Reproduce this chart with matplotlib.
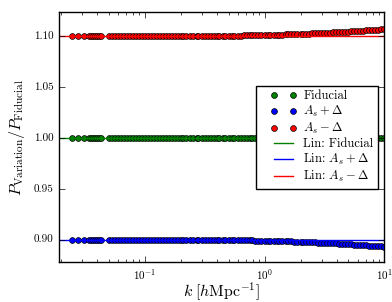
import matplotlib
matplotlib.use("Agg")
import numpy as np
from matplotlib import pyplot as plt
from matplotlib.lines import Line2D
from matplotlib.legend_handler import HandlerLine2D

plt.style.use("classic")
plt.rcParams["font.family"] = "serif"
plt.rcParams["font.serif"] = ["cmr10"]
plt.rcParams["mathtext.fontset"] = "cm"
plt.rcParams["axes.unicode_minus"] = False
plt.rcParams["axes.formatter.use_mathtext"] = True

k = np.array([
    0.0245, 0.0275, 0.031, 0.034, 0.0355, 0.037, 0.0385, 0.040, 0.0415, 0.043,
    0.050, 0.053, 0.056, 0.059, 0.063, 0.067, 0.071, 0.075, 0.079, 0.084,
    0.089, 0.094, 0.10, 0.106, 0.112, 0.119, 0.126, 0.133, 0.141, 0.150,
    0.158, 0.168, 0.178, 0.188, 0.20, 0.21, 0.22, 0.24, 0.25, 0.27,
    0.28, 0.30, 0.32, 0.335, 0.355, 0.375, 0.40, 0.42, 0.45, 0.47,
    0.50, 0.53, 0.56, 0.60, 0.63, 0.67, 0.71, 0.75, 0.79, 0.84,
    0.89, 0.94, 1.00, 1.06, 1.12, 1.19, 1.26, 1.33, 1.41, 1.50,
    1.58, 1.68, 1.78, 1.88, 2.00, 2.11, 2.24, 2.37, 2.51, 2.66,
    2.82, 2.99, 3.16, 3.35, 3.55, 3.76, 3.98, 4.22, 4.47, 4.73,
    5.01, 5.31, 5.62, 5.96, 6.31, 6.68, 7.08, 7.50, 7.94, 8.41,
    8.91, 9.44, 10.0,
])

fiducial = np.array([1.000] * len(k))

minus_delta = np.array([
    1.1000, 1.1000, 1.1000, 1.1000, 1.1000, 1.1000, 1.1000, 1.1000, 1.1000, 1.1000,
    1.1000, 1.1000, 1.1000, 1.1000, 1.1000, 1.1000, 1.1000, 1.1000, 1.1000, 1.1000,
    1.1000, 1.1000, 1.1000, 1.1000, 1.1000, 1.1000, 1.1000, 1.1000, 1.1000, 1.1000,
    1.1000, 1.1000, 1.1000, 1.1000, 1.1000, 1.1000, 1.1000, 1.1001, 1.1001, 1.1001,
    1.1001, 1.1001, 1.1002, 1.1002, 1.1002, 1.1002, 1.1003, 1.1003, 1.1003, 1.1004,
    1.1004, 1.1004, 1.1005, 1.1005, 1.1005, 1.1006, 1.1006, 1.1007, 1.1007, 1.1008,
    1.1008, 1.1009, 1.1009, 1.1010, 1.1011, 1.1011, 1.1012, 1.1013, 1.1014, 1.1015,
    1.1016, 1.1017, 1.1018, 1.1019, 1.1020, 1.1021, 1.1022, 1.1024, 1.1025, 1.1026,
    1.1028, 1.1029, 1.1031, 1.1032, 1.1034, 1.1035, 1.1037, 1.1038, 1.1040, 1.1042,
    1.1043, 1.1045, 1.1047, 1.1049, 1.1051, 1.1053, 1.1055, 1.1057, 1.1059, 1.1061,
    1.1063, 1.1065, 1.1068,
])

plus_delta = np.array([
    0.9000, 0.9000, 0.9000, 0.9000, 0.9000, 0.9000, 0.9000, 0.9000, 0.9000, 0.9000,
    0.9000, 0.9000, 0.9000, 0.9000, 0.9000, 0.9000, 0.9000, 0.9000, 0.9000, 0.9000,
    0.9000, 0.9000, 0.9000, 0.9000, 0.9000, 0.9000, 0.9000, 0.9000, 0.9000, 0.9000,
    0.9000, 0.9000, 0.9000, 0.9000, 0.9000, 0.9000, 0.9000, 0.8999, 0.8999, 0.8999,
    0.8999, 0.8999, 0.8998, 0.8998, 0.8998, 0.8998, 0.8997, 0.8997, 0.8997, 0.8996,
    0.8996, 0.8996, 0.8995, 0.8995, 0.8995, 0.8994, 0.8994, 0.8993, 0.8993, 0.8992,
    0.8992, 0.8991, 0.8991, 0.8990, 0.8989, 0.8989, 0.8988, 0.8987, 0.8986, 0.8985,
    0.8984, 0.8983, 0.8982, 0.8981, 0.8980, 0.8979, 0.8978, 0.8976, 0.8975, 0.8974,
    0.8972, 0.8971, 0.8969, 0.8968, 0.8966, 0.8965, 0.8963, 0.8962, 0.8960, 0.8958,
    0.8957, 0.8955, 0.8953, 0.8951, 0.8949, 0.8947, 0.8945, 0.8943, 0.8941, 0.8939,
    0.8937, 0.8935, 0.8932,
])

k_lin = np.array([0.015, 15.0])
lin_fiducial = np.array([1.0, 1.0])
lin_plus = np.array([0.9, 0.9])
lin_minus = np.array([1.1, 1.1])

fig = plt.figure(figsize=(3.92, 3.02), dpi=100)
ax = fig.add_axes([0.151, 0.132, 0.829, 0.828])

ax.plot(k, fiducial, "go", ms=4.2, mew=0.5, label="Fiducial")
ax.plot(k, plus_delta, "bo", ms=4.2, mew=0.5, label=r"$A_s+\Delta$")
ax.plot(k, minus_delta, "ro", ms=4.2, mew=0.5, label=r"$A_s-\Delta$")
ax.plot(k_lin, lin_fiducial, "g-", lw=1.0, label="Lin: Fiducial")
ax.plot(k_lin, lin_plus, "b-", lw=1.0, label=r"Lin: $A_s+\Delta$")
ax.plot(k_lin, lin_minus, "r-", lw=1.0, label=r"Lin: $A_s-\Delta$")

ax.set_xscale("log")
ax.set_xlim(0.0192, 10)
ax.set_ylim(0.878, 1.1235)
ax.set_yticks([0.90, 0.95, 1.00, 1.05, 1.10])
ax.set_yticklabels(["0.90", "0.95", "1.00", "1.05", "1.10"])
ax.tick_params(labelsize=8)
ax.set_xlabel(r"$k\;[h\mathrm{Mpc}^{-1}]$", fontsize=11.5, labelpad=-1)
ax.set_ylabel(r"$P_{\rm Variation}/P_{\rm Fiducial}$", fontsize=11.5)

ax.legend(loc="center right", fontsize=9, numpoints=2, labelspacing=0.15,
          borderpad=0.35, handlelength=2.92, handletextpad=0.56,
          borderaxespad=0.5,
          handler_map={Line2D: HandlerLine2D(xpad=0.8)})

fig.savefig("out.png", dpi=100)
